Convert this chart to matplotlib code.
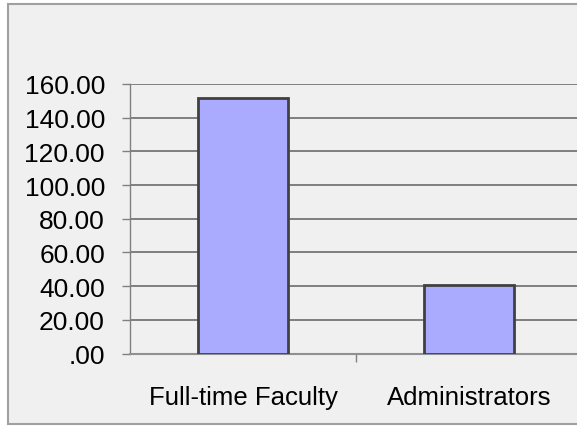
import matplotlib
matplotlib.use("Agg")
import matplotlib.pyplot as plt
from matplotlib.patches import Rectangle

categories = ["Full-time Faculty", "Administrators"]
values = [151.5, 40.8]
yticks = [0, 20, 40, 60, 80, 100, 120, 140, 160]
ytick_labels = [".00", "20.00", "40.00", "60.00", "80.00", "100.00", "120.00", "140.00", "160.00"]

W, H = 577, 427
fig = plt.figure(figsize=(W / 100, H / 100), dpi=100)
fig.patch.set_facecolor("white")

# outer chart-area border
fig.patches.append(Rectangle((8 / W, 1 - 425 / H), (W + 20) / W, (425 - 5) / H,
                             transform=fig.transFigure, facecolor="#F0F0F0",
                             edgecolor="#A0A0A0", linewidth=1.5, zorder=-10))

left, right, top, bottom = 130, 582, 85, 354.5
ax = fig.add_axes([left / W, 1 - bottom / H, (right - left) / W, (bottom - top) / H])
ax.set_zorder(1)
ax.set_facecolor("#F0F0F0")

x = list(range(len(categories)))
ax.bar(x, values, width=0.4, color="#AAAAFF", edgecolor="#404040", linewidth=2, zorder=3)
ax.set_xlim(-0.5, len(categories) - 0.5)
ax.set_ylim(0, 160)

ax.set_yticks(yticks)
ax.set_yticklabels(ytick_labels, fontsize=19, family="Liberation Sans", color="black")
ax.yaxis.grid(True, color="#606060", linewidth=1.1, zorder=1)
ax.set_axisbelow(True)

ax.set_xticks(x)
ax.set_xticklabels(categories, fontsize=18.5, family="Liberation Sans", color="black")
ax.set_xticks([0.5], minor=True)
ax.tick_params(axis="x", which="major", length=0, pad=23)
ax.tick_params(axis="x", which="minor", length=6, width=1, color="#808080", direction="out")
ax.tick_params(axis="y", length=6, width=1, color="#808080", direction="out", pad=12)

for s in ["top", "right"]:
    ax.spines[s].set_visible(False)
ax.spines["left"].set_color("#808080")
ax.spines["bottom"].set_color("#909090")
ax.spines["left"].set_linewidth(1)
ax.spines["bottom"].set_linewidth(1.5)

fig.savefig("out.png", dpi=100)
